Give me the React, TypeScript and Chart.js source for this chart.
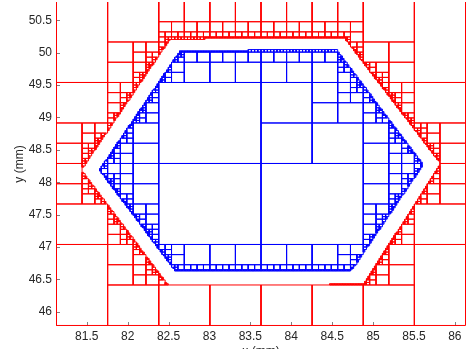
import React, { useEffect, useRef } from 'react';
import { Chart, registerables } from 'chart.js';

Chart.register(...registerables);

// Axis ticks
const xTickValues = [81.5, 82, 82.5, 83, 83.5, 84, 84.5, 85, 85.5, 86];
const xTickLabels = ['81.5', '82', '82.5', '83', '83.5', '84', '84.5', '85', '85.5', '86'];
const yTickValues = [46, 46.5, 47, 47.5, 48, 48.5, 49, 49.5, 50, 50.5];
const yTickLabels = ['46', '46.5', '47', '47.5', '48', '48.5', '49', '49.5', '50', '50.5'];
const xAxisRange = [81.124, 86.136];
const yAxisRange = [45.782, 50.782];
const xTitle = 'x (mm)';
const yTitle = 'y (mm)';

// Mesh domain and coarse (1.25 mm) grid lines of the two quadtrees
const meshLimitsX = [81.13, 86.13];
const meshLimitsY = [45.79, 50.79];
const redCoarseX = [80.505, 81.755, 83.005, 84.255, 85.505, 86.755];
const blueCoarseX = [81.13, 82.38, 83.63, 84.88, 86.13];
const coarseY = [45.79, 47.04, 48.29, 49.54, 50.79];
const refineLevels = 6;

// Hexagon boundaries (outer: red mesh outside, inner: blue mesh inside)
const outerHexX = [81.45, 82.53, 84.64, 85.81, 84.88, 82.51];
const outerHexY = [48.19, 50.2, 50.22, 48.29, 46.438, 46.418];
const innerHexX = [81.64, 82.63, 84.56, 85.63, 84.75, 82.58];
const innerHexY = [48.19, 50.035, 50.065, 48.27, 46.63, 46.61];

type P = [number, number];
const toPoly = (xs: number[], ys: number[]): P[] => xs.map((x, i) => [x, ys[i]] as P);

function orientation(poly: P[]) {
  let a = 0;
  for (let i = 0; i < poly.length; i++) {
    const [x1, y1] = poly[i];
    const [x2, y2] = poly[(i + 1) % poly.length];
    a += x1 * y2 - x2 * y1;
  }
  return Math.sign(a);
}

// 1: cell inside polygon, -1: disjoint, 0: crossing the boundary
function classify(poly: P[], s: number, x0: number, y0: number, x1: number, y1: number) {
  const cs: P[] = [[x0, y0], [x1, y0], [x1, y1], [x0, y1]];
  const n = poly.length;
  let inCount = 0;
  for (const [cx, cy] of cs) {
    let ins = true;
    for (let i = 0; i < n; i++) {
      const [ax, ay] = poly[i];
      const [bx, by] = poly[(i + 1) % n];
      const cr = (bx - ax) * (cy - ay) - (by - ay) * (cx - ax);
      if (cr * s <= 0) { ins = false; break; }
    }
    if (ins) inCount++;
  }
  if (inCount === 4) return 1;
  if (inCount > 0) return 0;
  let mnx = Infinity, mxx = -Infinity, mny = Infinity, mxy = -Infinity;
  for (const [px, py] of poly) {
    mnx = Math.min(mnx, px); mxx = Math.max(mxx, px);
    mny = Math.min(mny, py); mxy = Math.max(mxy, py);
  }
  if (mxx <= x0 || mnx >= x1 || mxy <= y0 || mny >= y1) return -1;
  for (let i = 0; i < n; i++) {
    const [ax, ay] = poly[i];
    const [bx, by] = poly[(i + 1) % n];
    let allOut = true;
    for (const [cx, cy] of cs) {
      const cr = (bx - ax) * (cy - ay) - (by - ay) * (cx - ax);
      if (cr * s > 0) { allOut = false; break; }
    }
    if (allOut) return -1;
  }
  return 0;
}

function refine(poly: P[], s: number, keep: number, x0: number, y0: number, x1: number, y1: number, level: number, out: number[][]) {
  if (x1 <= meshLimitsX[0] || x0 >= meshLimitsX[1] || y1 <= meshLimitsY[0] || y0 >= meshLimitsY[1]) return;
  const c = classify(poly, s, x0, y0, x1, y1);
  if (c === keep) {
    out.push([
      Math.max(x0, meshLimitsX[0]), Math.max(y0, meshLimitsY[0]),
      Math.min(x1, meshLimitsX[1]), Math.min(y1, meshLimitsY[1]),
    ]);
    return;
  }
  if (c !== 0 || level === 0) return;
  const xm = (x0 + x1) / 2;
  const ym = (y0 + y1) / 2;
  refine(poly, s, keep, x0, y0, xm, ym, level - 1, out);
  refine(poly, s, keep, xm, y0, x1, ym, level - 1, out);
  refine(poly, s, keep, x0, ym, xm, y1, level - 1, out);
  refine(poly, s, keep, xm, ym, x1, y1, level - 1, out);
}

function buildMesh(gx: number[], gy: number[], xs: number[], ys: number[], keep: number) {
  const poly = toPoly(xs, ys);
  const s = orientation(poly);
  const rects: number[][] = [];
  for (let i = 0; i + 1 < gx.length; i++) {
    for (let j = 0; j + 1 < gy.length; j++) {
      refine(poly, s, keep, gx[i], gy[j], gx[i + 1], gy[j + 1], refineLevels, rects);
    }
  }
  const pts: { x: number; y: number }[] = [];
  for (const [a, b, c, d] of rects) {
    pts.push({ x: a, y: b }, { x: c, y: b }, { x: c, y: d }, { x: a, y: d }, { x: a, y: b }, { x: NaN, y: NaN });
  }
  return pts;
}

const FONT = 'Liberation Sans, Arial, Helvetica, sans-serif';

const axisDecor = {
  id: 'axisDecor',
  beforeDatasetsDraw(chart: any) {
    const { ctx, chartArea, scales } = chart;
    ctx.save();
    ctx.strokeStyle = '#808080';
    ctx.lineWidth = 1;
    ctx.beginPath();
    for (const v of xTickValues) {
      const px = Math.round(scales.x.getPixelForValue(v)) + 0.5;
      ctx.moveTo(px, chartArea.bottom);
      ctx.lineTo(px, chartArea.bottom - 4);
    }
    for (const v of yTickValues) {
      const py = Math.round(scales.y.getPixelForValue(v)) + 0.5;
      ctx.moveTo(chartArea.left, py);
      ctx.lineTo(chartArea.left + 4, py);
    }
    ctx.stroke();
    ctx.restore();
  },
  afterDraw(chart: any) {
    const { ctx, chartArea } = chart;
    ctx.save();
    ctx.fillStyle = '#262626';
    ctx.font = `12px ${FONT}`;
    ctx.textAlign = 'center';
    ctx.textBaseline = 'alphabetic';
    ctx.fillText(xTitle, (chartArea.left + chartArea.right) / 2, 355);
    ctx.translate(20, (chartArea.top + chartArea.bottom) / 2);
    ctx.rotate(-Math.PI / 2);
    ctx.textBaseline = 'middle';
    ctx.fillText(yTitle, 0, 0);
    ctx.restore();
  },
};

export default function App() {
  const ref = useRef<HTMLCanvasElement | null>(null);
  useEffect(() => {
    if (!ref.current) return;
    const redPts = buildMesh(redCoarseX, coarseY, outerHexX, outerHexY, -1);
    const bluePts = buildMesh(blueCoarseX, coarseY, innerHexX, innerHexY, 1);
    const chart = new Chart(ref.current, {
      type: 'scatter',
      data: {
        datasets: [
          {
            data: redPts,
            showLine: true,
            borderColor: 'rgb(255,0,0)',
            backgroundColor: 'rgb(255,0,0)',
            borderWidth: 1,
            pointRadius: 0,
            pointHoverRadius: 0,
            spanGaps: false,
            tension: 0,
          } as any,
          {
            data: bluePts,
            showLine: true,
            borderColor: 'rgb(0,0,255)',
            backgroundColor: 'rgb(0,0,255)',
            borderWidth: 1,
            pointRadius: 0,
            pointHoverRadius: 0,
            spanGaps: false,
            tension: 0,
          } as any,
        ],
      },
      options: {
        animation: false,
        responsive: false,
        devicePixelRatio: 1,
        events: [],
        layout: { padding: { top: 2, left: 0, right: 0, bottom: 0 } },
        plugins: { legend: { display: false }, tooltip: { enabled: false } },
        scales: {
          x: {
            type: 'linear',
            min: xAxisRange[0],
            max: xAxisRange[1],
            afterBuildTicks: (s: any) => { s.ticks = xTickValues.map((v) => ({ value: v })); },
            afterFit: (s: any) => {
              s.height = 23;
              s.paddingLeft = 0; s.paddingRight = 0; s.paddingTop = 0; s.paddingBottom = 0;
            },
            grid: { display: false, drawTicks: false },
            border: { display: false },
            ticks: {
              autoSkip: false,
              maxRotation: 0,
              padding: 3,
              color: '#262626',
              font: { family: FONT, size: 12 },
              callback: (v: any) => xTickLabels[xTickValues.indexOf(Number(v))] ?? '',
            },
          },
          y: {
            type: 'linear',
            min: yAxisRange[0],
            max: yAxisRange[1],
            afterBuildTicks: (s: any) => { s.ticks = yTickValues.map((v) => ({ value: v })); },
            afterFit: (s: any) => {
              s.width = 56;
              s.paddingLeft = 0; s.paddingRight = 0; s.paddingTop = 0; s.paddingBottom = 0;
            },
            grid: { display: false, drawTicks: false },
            border: { display: false },
            ticks: {
              autoSkip: false,
              padding: 4,
              color: '#262626',
              font: { family: FONT, size: 12 },
              callback: (v: any) => yTickLabels[yTickValues.indexOf(Number(v))] ?? '',
            },
          },
        },
      },
      plugins: [axisDecor],
    });
    return () => chart.destroy();
  }, []);
  return (
    <div style={{ position: 'absolute', left: 0, top: 0, width: 466, height: 349, background: '#fff' }}>
      <canvas ref={ref} width={466} height={349} style={{ display: 'block' }} />
    </div>
  );
}
